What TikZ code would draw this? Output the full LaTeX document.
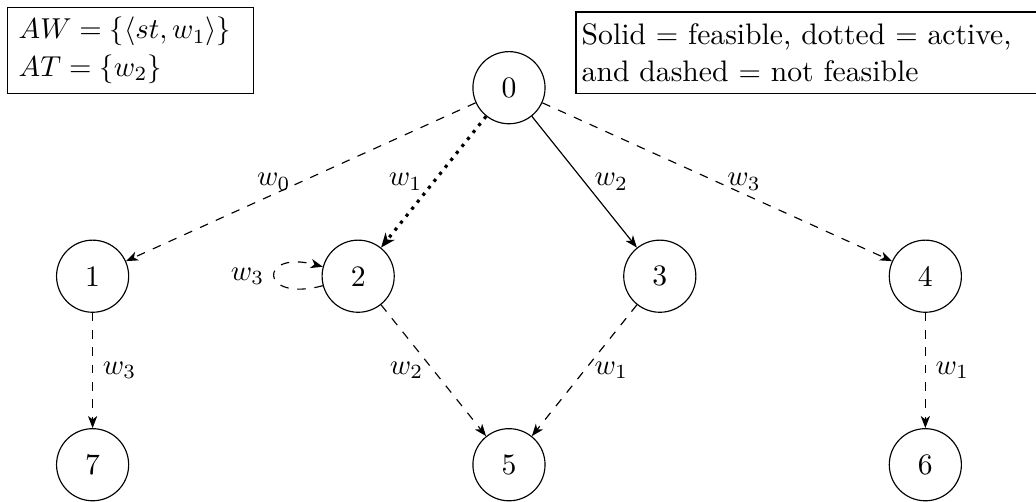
\documentclass[tikz,border=0pt]{standalone}
\usepackage{amsmath,amssymb}
\usepackage{tikz}
\usetikzlibrary{arrows.meta,positioning}
\tikzset{
  every node/.style={font=\fontsize{10.3}{13}\selectfont},
  vert/.style={circle,draw,minimum size=0.88cm,inner sep=0pt},
  keybox/.style={draw,align=left,inner xsep=4pt,inner ysep=3.5pt},
  feas/.style={-{Stealth[length=4.2pt,width=3.2pt,inset=1.2pt]}},
  act/.style={-{Stealth[length=5pt,width=4pt,inset=1.5pt]},line width=1.1pt,dotted},
  infeas/.style={feas,dashed}
}

\begin{document}
\begin{tikzpicture}[node distance=2.3cm and 1.84cm,on grid]
\useasboundingbox (-6.21,1.07) rectangle (6.43,-5.05);
\node[vert] (n0) {0};
\node[vert,below left=2.3cm and 5.08cm of n0] (n1) {1};
\node[vert,below left=of n0] (n2) {2};
\node[vert,below right=of n0] (n3) {3};
\node[vert,below right=2.3cm and 5.08cm of n0] (n4) {4};
\node[vert,below=of n1] (n7) {7};
\node[vert,below right=of n2] (n5) {5};
\node[vert,below=of n4] (n6) {6};

\node[keybox,anchor=north west,text width=2.72cm] (sets) at (-6.13,0.99) {$AW = \{\langle st, w_1\rangle\}$\\$AT = \{w_2\}$};
\node[keybox,anchor=north west,inner xsep=2pt,inner ysep=4pt,text width=5.8cm] (key) at (0.81,0.93) {Solid $=$ feasible, dotted $=$ active,\\and dashed $=$ not feasible};

\draw[infeas] (n0) -- node[left] {$w_0$} (n1);
\draw[act] (n0) -- node[left] {$w_1$} (n2);
\draw[feas] (n0) -- node[right] {$w_2$} (n3);
\draw[infeas] (n0) -- node[right] {$w_3$} (n4);
\path (n2) edge[infeas,loop left,looseness=9] node {$w_3$} (n2);
\draw[infeas] (n1) -- node[right] {$w_3$} (n7);
\draw[infeas] (n2) -- node[left] {$w_2$} (n5);
\draw[infeas] (n3) -- node[right] {$w_1$} (n5);
\draw[infeas] (n4) -- node[right] {$w_1$} (n6);
\end{tikzpicture}
\end{document}
